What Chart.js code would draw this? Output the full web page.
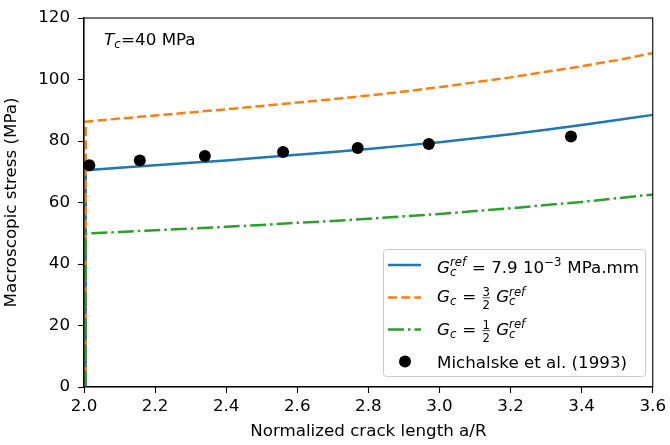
<!DOCTYPE html>
<html>
<head>
<meta charset="utf-8">
<script src="https://cdn.jsdelivr.net/npm/chart.js@4.4.1/dist/chart.umd.min.js"></script>
<style>
  html, body { margin: 0; padding: 0; background: #fff; }
  #wrap { width: 670px; height: 445px; }
</style>
</head>
<body>
<div id="wrap"><canvas id="myChart"></canvas></div>
<script>
// values
const crackLength = [2.005, 2.1, 2.2, 2.3, 2.4, 2.5, 2.6, 2.7, 2.8, 2.9, 3.0, 3.1, 3.2, 3.3, 3.4, 3.5, 3.6];
const stressRef  = [70.5, 71.3, 72.1, 72.9, 73.7, 74.6, 75.5, 76.4, 77.4, 78.5, 79.6, 80.9, 82.2, 83.7, 85.2, 86.8, 88.5];
const stressHigh = [86.3, 87.3, 88.3, 89.3, 90.3, 91.4, 92.5, 93.6, 94.8, 96.1, 97.5, 99.1, 100.7, 102.5, 104.3, 106.3, 108.6];
const stressLow  = [49.9, 50.4, 51.0, 51.5, 52.1, 52.7, 53.4, 54.0, 54.7, 55.5, 56.3, 57.2, 58.1, 59.2, 60.2, 61.4, 62.6];

const expLength = [2.015, 2.157, 2.34, 2.56, 2.77, 2.97, 3.37];
const expStress = [72.1, 73.7, 75.1, 76.4, 77.7, 79.0, 81.5];

const xTicks = [2.0, 2.2, 2.4, 2.6, 2.8, 3.0, 3.2, 3.4, 3.6];
const yTicks = [0, 20, 40, 60, 80, 100, 120];

// legend labels as small mathtext pieces
const legendLabels = [
  [{ t: "G", it: true }, { sub: "c", sup: "ref" }, { t: " = 7.9 10" }, { sup: "\u22123" }, { t: " MPa.mm" }],
  [{ t: "G", it: true }, { sub: "c" }, { t: " = " }, { frac: ["3", "2"] }, { t: " G", it: true }, { sub: "c", sup: "ref" }],
  [{ t: "G", it: true }, { sub: "c" }, { t: " = " }, { frac: ["1", "2"] }, { t: " G", it: true }, { sub: "c", sup: "ref" }],
  [{ t: "Michalske et al. (1993)" }],
];

const FS = 16.7;
const mainFont = { family: "DejaVu Sans", size: FS };

const curve = (xs, ys) => [{ x: xs[0], y: 0 }].concat(xs.map((x, i) => ({ x: x, y: ys[i] })));

const ctx = document.querySelector("#myChart").getContext("2d");

//mathtext-ish text
const drawMath = (c, x, y, parts) => {
  const small = FS * 0.7;
  const f = (size, it) => (it ? "italic " : "") + size + "px 'DejaVu Sans'";
  c.textAlign = "left";
  c.textBaseline = "alphabetic";
  c.fillStyle = "#000";
  parts.forEach((p) => {
    if (p.t) {
      c.font = f(FS, p.it);
      c.fillText(p.t, x, y);
      x += c.measureText(p.t).width;
    } else if (p.frac) {
      c.font = f(small, false);
      const w = Math.max(c.measureText(p.frac[0]).width, c.measureText(p.frac[1]).width);
      c.fillText(p.frac[0], x + 1, y - 6);
      c.fillText(p.frac[1], x + 1, y + 7);
      c.fillRect(x + 1, y - 4.5, w, 0.7);
      x += w + 2;
    } else {
      let w = 0;
      if (p.sup) {
        c.font = f(small, p.sup !== "\u22123");
        c.fillText(p.sup, x, y - 6.5);
        w = c.measureText(p.sup).width;
      }
      if (p.sub) {
        c.font = f(small, true);
        c.fillText(p.sub, x, y + 3);
        w = Math.max(w, c.measureText(p.sub).width);
      }
      x += w + 0.5;
    }
  });
};

//frame, annotation and legend
const decorations = {
  id: "decorations",
  afterDatasetsDraw(chart) {
    const { ctx: c, chartArea: a } = chart;
    c.save();
    c.strokeStyle = "#000";
    c.lineWidth = 1.1;
    c.strokeRect(a.left, a.top, a.right - a.left, a.bottom - a.top);
    c.restore();
  },
  afterDraw(chart) {
    const c = chart.ctx;
    c.save();
    drawMath(c, 104, 45, [{ t: "T", it: true }, { sub: "c" }, { t: "=40 MPa" }]);

    // legend box
    const bx = 383.5, by = 249.5, bw = 262, bh = 127;
    c.beginPath();
    c.roundRect(bx, by, bw, bh, 3);
    c.fillStyle = "rgba(255,255,255,0.8)";
    c.fill();
    c.strokeStyle = "#cccccc";
    c.lineWidth = 1;
    c.stroke();

    const rowsY = [265, 297.5, 329.5, 361.5];
    const baseY = [272.5, 302, 334.5, 368];
    const ds = chart.data.datasets;
    for (let i = 0; i < 3; i++) {
      c.beginPath();
      c.setLineDash(ds[i].borderDash || []);
      c.strokeStyle = ds[i].borderColor;
      c.lineWidth = ds[i].borderWidth;
      c.moveTo(388, rowsY[i]);
      c.lineTo(421, rowsY[i]);
      c.stroke();
    }
    c.setLineDash([]);
    c.beginPath();
    c.arc(405, rowsY[3], 6, 0, Math.PI * 2);
    c.fillStyle = "#000";
    c.fill();

    legendLabels.forEach((parts, i) => drawMath(c, 437, baseY[i], parts));
    c.restore();
  },
};

const data = {
  datasets: [
    {
      label: "ref",
      data: curve(crackLength, stressRef),
      showLine: true,
      borderColor: "#1f77b4",
      borderWidth: 2.5,
      pointRadius: 0,
      order: 4,
    },
    {
      label: "high",
      data: curve(crackLength, stressHigh),
      showLine: true,
      borderColor: "#ff7f0e",
      borderWidth: 2.5,
      borderDash: [9.2, 4],
      pointRadius: 0,
      order: 3,
    },
    {
      label: "low",
      data: curve(crackLength, stressLow),
      showLine: true,
      borderColor: "#2ca02c",
      borderWidth: 2.5,
      borderDash: [16, 4, 2.5, 4],
      pointRadius: 0,
      order: 2,
    },
    {
      label: "Michalske et al. (1993)",
      data: expLength.map((x, i) => ({ x: x, y: expStress[i] })),
      pointRadius: 6,
      pointBackgroundColor: "#000",
      pointBorderWidth: 0,
      order: 1,
    },
  ],
};

const config = {
  type: "scatter",
  data: data,
  plugins: [decorations],
  options: {
    responsive: true,
    maintainAspectRatio: false,
    animation: false,
    layout: { padding: { top: 15, right: 14, left: 0, bottom: 0 } },
    scales: {
      x: {
        type: "linear",
        min: 2.0,
        max: 3.6,
        afterBuildTicks: (s) => {
          s.ticks = xTicks.map((v) => ({ value: v }));
        },
        afterFit: (s) => {
          s.height = 58;
        },
        ticks: {
          callback: (v) => v.toFixed(1),
          font: mainFont,
          color: "#000",
          padding: 4,
          maxRotation: 0,
          autoSkip: false,
        },
        grid: { drawOnChartArea: false, drawTicks: true, tickLength: 6, tickColor: "#000", tickWidth: 1.1 },
        border: { display: true, color: "#000", width: 1.1 },
        title: { display: true, text: "Normalized crack length a/R", font: mainFont, color: "#000", padding: { top: 2, bottom: 3 } },
      },
      y: {
        min: 0,
        max: 120,
        afterBuildTicks: (s) => {
          s.ticks = yTicks.map((v) => ({ value: v }));
        },
        afterFit: (s) => {
          s.width = 84;
        },
        ticks: {
          font: mainFont,
          color: "#000",
          padding: 8,
        },
        grid: { drawOnChartArea: false, drawTicks: true, tickLength: 6, tickColor: "#000", tickWidth: 1.1 },
        border: { display: true, color: "#000", width: 1.1 },
        title: { display: true, text: "Macroscopic stress (MPa)", font: mainFont, color: "#000", padding: { top: 2, bottom: 2 } },
      },
    },
    plugins: {
      legend: { display: false },
      tooltip: { enabled: false },
    },
  },
};

const myChart = new Chart(ctx, config);
</script>
</body>
</html>
